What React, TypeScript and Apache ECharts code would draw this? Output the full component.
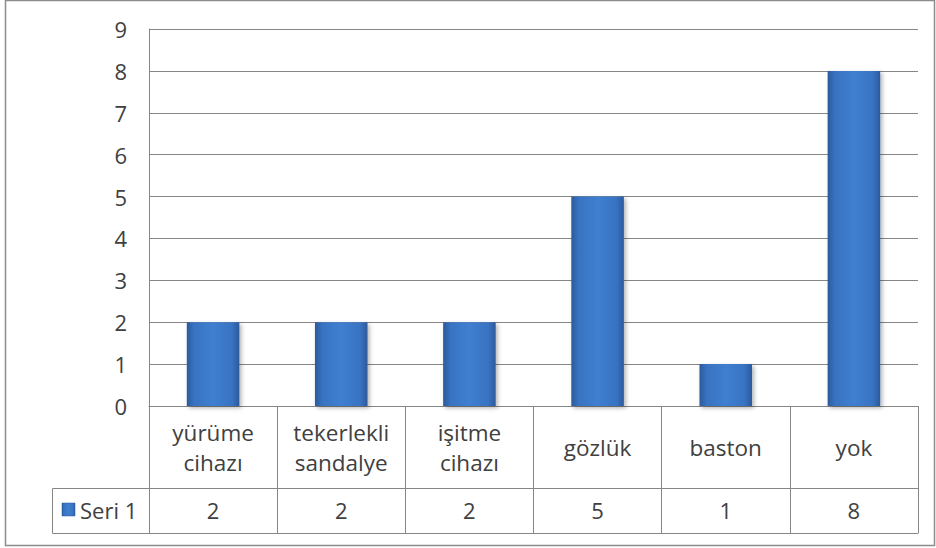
import React, { useEffect, useRef } from "react";
import * as echarts from "echarts";

const categories = ["yürüme cihazı", "tekerlekli sandalye", "işitme cihazı", "gözlük", "baston", "yok"];
const values = [2, 2, 2, 5, 1, 8];
const seriesName = "Seri 1";
const yMin = 0;
const yMax = 9;
const yInterval = 1;

const FONT = "'Open Sans', sans-serif";
const TEXT = "#404040";
const LINE = "#868686";

const barGradient = () =>
  new echarts.graphic.LinearGradient(0, 0, 1, 0, [
    { offset: 0, color: "#2b5a9c" },
    { offset: 0.14, color: "#3873c2" },
    { offset: 0.5, color: "#3f7fd0" },
    { offset: 0.86, color: "#3873c2" },
    { offset: 1, color: "#2b5a9c" },
  ]);

export default function App() {
  const ref = useRef<HTMLDivElement>(null);
  useEffect(() => {
    if (!ref.current) return;
    const chart = echarts.init(ref.current, undefined, { renderer: "svg" });
    const gridLeft = 149;
    const gridRight = 18;
    const gridTop = 29;
    const gridBottom = 142;
    chart.setOption({
      animation: false,
      backgroundColor: "#ffffff",
      textStyle: { fontFamily: FONT },
      grid: { left: gridLeft, right: gridRight, top: gridTop, bottom: gridBottom, containLabel: false },
      yAxis: {
        type: "value",
        min: yMin,
        max: yMax,
        interval: yInterval,
        axisLine: { show: true, lineStyle: { color: LINE, width: 1 } },
        axisTick: { show: false },
        splitLine: { show: true, lineStyle: { color: LINE, width: 1 } },
        axisLabel: { color: TEXT, fontSize: 22, fontFamily: FONT, margin: 22 },
      },
      xAxis: [
        {
          type: "category",
          data: categories,
          position: "bottom",
          axisLine: { show: true, lineStyle: { color: LINE, width: 1 } },
          axisTick: { show: true, length: 127, interval: 0, lineStyle: { color: LINE, width: 1 } },
          axisLabel: {
            interval: 0,
            color: TEXT,
            fontSize: 22.5,
            fontFamily: FONT,
            lineHeight: 30,
            margin: 41,
            verticalAlign: "middle",
            formatter: (v: string) => v.replace(" ", "\n"),
          },
        },
        {
          type: "category",
          data: categories,
          position: "bottom",
          offset: 82,
          axisLine: { show: true, lineStyle: { color: LINE, width: 1 } },
          axisTick: { show: false },
          axisLabel: {
            interval: 0,
            color: TEXT,
            fontSize: 22,
            fontFamily: FONT,
            margin: 22,
            verticalAlign: "middle",
            formatter: (_v: string, i: number) => String(values[i]),
          },
        },
        {
          type: "category",
          data: categories,
          position: "bottom",
          offset: 127,
          axisLine: { show: true, lineStyle: { color: LINE, width: 1 } },
          axisTick: { show: false },
          axisLabel: { show: false },
        },
      ],
      series: [
        {
          name: seriesName,
          type: "bar",
          xAxisIndex: 0,
          data: values,
          barWidth: "41%",
          itemStyle: {
            color: barGradient(),
            shadowColor: "rgba(0,0,0,0.3)",
            shadowBlur: 4,
            shadowOffsetX: 2,
            shadowOffsetY: 2,
          },
        },
      ],
      graphic: [
        {
          type: "rect",
          shape: { x: 5.5, y: 0.5, width: 929, height: 545 },
          style: { fill: "none", stroke: "#8c8c8c", lineWidth: 1.5 },
          silent: true,
        },
        {
          type: "polyline",
          shape: { points: [[gridLeft, 488.5], [52.5, 488.5], [52.5, 533.5], [gridLeft, 533.5]] },
          style: { fill: "none", stroke: LINE, lineWidth: 1 },
          silent: true,
        },
        {
          type: "rect",
          shape: { x: 62, y: 503, width: 13, height: 13 },
          style: { fill: barGradient(), stroke: "#2b5a9c", lineWidth: 0.5 },
          silent: true,
        },
        {
          type: "text",
          x: 80,
          y: 510,
          style: {
            text: seriesName,
            fill: TEXT,
            font: `22px ${FONT}`,
            verticalAlign: "middle",
            align: "left",
          },
          silent: true,
        },
      ],
    });
    return () => chart.dispose();
  }, []);
  return (
    <div
      ref={ref}
      style={{ position: "fixed", left: 0, top: 0, width: 936, height: 548, background: "#fff" }}
    />
  );
}
